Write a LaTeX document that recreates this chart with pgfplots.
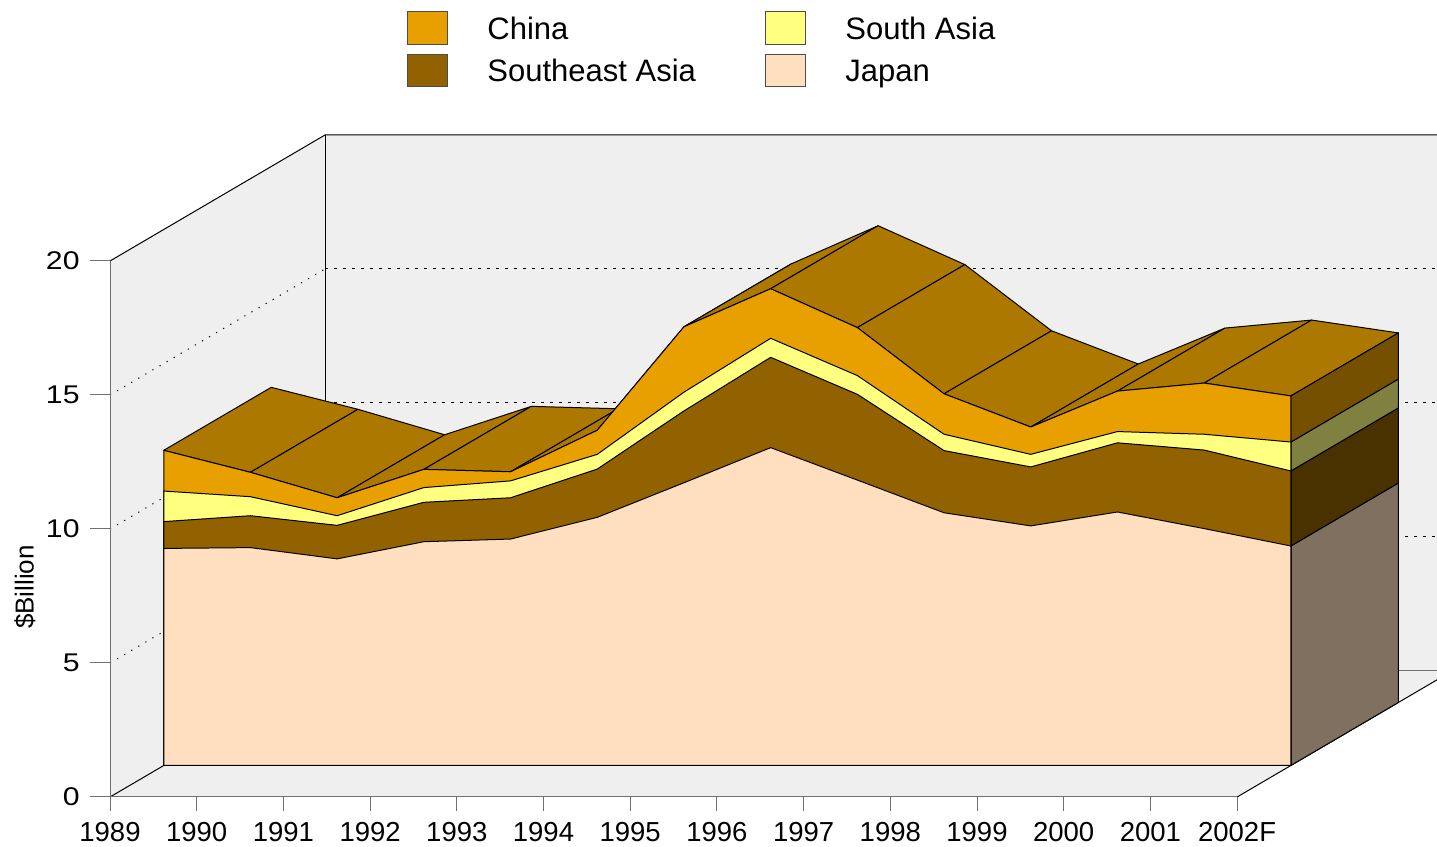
\documentclass[border=0pt]{standalone}
\usepackage{graphicx}
\usepackage{pgfplots}
\pgfplotsset{compat=1.18}
\usepackage{pgfplotstable}
\usepackage{fontspec}
\setmainfont{Liberation Sans}

\definecolor{japan}{HTML}{FFDFC0}
\definecolor{sea}{HTML}{926200}
\definecolor{sa}{HTML}{FFFF80}
\definecolor{china}{HTML}{E8A000}
\definecolor{topc}{HTML}{AD7800}
\definecolor{sjapan}{HTML}{80705F}
\definecolor{ssea}{HTML}{493100}
\definecolor{ssa}{HTML}{808040}
\definecolor{schina}{HTML}{745000}
\definecolor{wall}{HTML}{EFEFEF}
\definecolor{axisgray}{HTML}{707070}

\pgfplotstableread{
i japan sea sa china
0 8.10 1.00 1.14 1.52
1 8.13 1.19 0.71 0.91
2 7.71 1.25 0.36 0.67
3 8.35 1.47 0.55 0.68
4 8.45 1.54 0.63 0.34
5 9.26 1.80 0.55 0.90
6 10.55 2.68 0.70 2.44
7 11.86 3.37 0.71 1.85
8 10.65 3.20 0.70 1.79
9 9.43 2.32 0.61 1.51
10 8.94 2.20 0.47 1.02
11 9.46 2.58 0.42 1.51
12 8.84 2.93 0.59 1.91
13 8.19 2.80 1.08 1.72
}\data
\pgfplotstablecreatecol[create col/expr={\thisrow{japan}}]{c1}\data
\pgfplotstablecreatecol[create col/expr={\thisrow{japan}+\thisrow{sea}}]{c2}\data
\pgfplotstablecreatecol[create col/expr={\thisrow{japan}+\thisrow{sea}+\thisrow{sa}}]{c3}\data
\pgfplotstablecreatecol[create col/expr={\thisrow{japan}+\thisrow{sea}+\thisrow{sa}+\thisrow{china}}]{c4}\data

\newcommand\xfont{\fontsize{13.75}{16}\selectfont}
\newcommand\yfont{\fontsize{12.8}{15}\selectfont}
\newcommand\lfont{\fontsize{15.5}{18}\selectfont}

\begin{document}
\begin{tikzpicture}
\begin{axis}[
  hide axis, clip=false,
  x={(43.35pt,0pt)}, y={(107.5pt,63pt)}, z={(0pt,13.4pt)},
  xmin=0, xmax=13, ymin=0, ymax=1, zmin=0, zmax=20,
  every axis plot/.append style={mark=none, line width=0.5pt, line join=round},
]
% walls and floor
\addplot3[draw=none, fill=wall] coordinates {(0,0,0) (13,0,0) (13,1,0) (0,1,0)} -- cycle;
\addplot3[draw=none, fill=wall] coordinates {(0,0,0) (0,1,0) (0,1,20) (0,0,20)} -- cycle;
\addplot3[draw=none, fill=wall] coordinates {(0,1,0) (13,1,0) (13,1,20) (0,1,20)} -- cycle;
\pgfplotsinvokeforeach{5,10,15}{
  \addplot3[black, dash pattern=on 0.6pt off 3.5pt] coordinates {(0,0,#1) (0,1,#1)};
  \addplot3[black, dash pattern=on 1.5pt off 3pt] coordinates {(0,1,#1) (13,1,#1)};
}
\addplot3[black] coordinates {(0,0,20) (0,1,20) (13,1,20)};
\addplot3[black] coordinates {(0,1,20) (0,1,0)};
\addplot3[axisgray] coordinates {(0,1,0) (13,1,0)};
\addplot3[black] coordinates {(0,0,0) (0,1,0)};
\addplot3[black] coordinates {(13,0,0) (13,1,0)};
\addplot3[axisgray] coordinates {(0,0,20) (0,0,0) (13,0,0)};
\coordinate (O) at (axis cs:0,0,0);
% top surface
\pgfplotsforeachungrouped \k in {0,...,12}{%
  \pgfmathtruncatemacro{\kk}{\k+1}%
  \pgfplotstablegetelem{\k}{c4}\of\data\let\va\pgfplotsretval
  \pgfplotstablegetelem{\kk}{c4}\of\data\let\vb\pgfplotsretval
  \edef\tmp{\noexpand\addplot3[fill=topc, draw=black] coordinates {(\k,0.25,\va) (\kk,0.25,\vb) (\kk,0.75,\vb) (\k,0.75,\va)} -- cycle;}%
  \tmp
}
% right side faces
\pgfplotstablegetelem{13}{c1}\of\data\let\ra\pgfplotsretval
\pgfplotstablegetelem{13}{c2}\of\data\let\rb\pgfplotsretval
\pgfplotstablegetelem{13}{c3}\of\data\let\rc\pgfplotsretval
\pgfplotstablegetelem{13}{c4}\of\data\let\rd\pgfplotsretval
\edef\tmp{%
\noexpand\addplot3[fill=sjapan, draw=black] coordinates {(13,0.25,0) (13,0.75,0) (13,0.75,\ra) (13,0.25,\ra)} -- cycle;
\noexpand\addplot3[fill=ssea, draw=black] coordinates {(13,0.25,\ra) (13,0.75,\ra) (13,0.75,\rb) (13,0.25,\rb)} -- cycle;
\noexpand\addplot3[fill=ssa, draw=black] coordinates {(13,0.25,\rb) (13,0.75,\rb) (13,0.75,\rc) (13,0.25,\rc)} -- cycle;
\noexpand\addplot3[fill=schina, draw=black] coordinates {(13,0.25,\rc) (13,0.75,\rc) (13,0.75,\rd) (13,0.25,\rd)} -- cycle;
}\tmp
% front faces
\addplot3[fill=china, draw=black] table[x=i, y expr=0.25, z=c4] {\data} -- (axis cs:13,0.25,0) -- (axis cs:0,0.25,0) -- cycle;
\addplot3[fill=sa, draw=black] table[x=i, y expr=0.25, z=c3] {\data} -- (axis cs:13,0.25,0) -- (axis cs:0,0.25,0) -- cycle;
\addplot3[fill=sea, draw=black] table[x=i, y expr=0.25, z=c2] {\data} -- (axis cs:13,0.25,0) -- (axis cs:0,0.25,0) -- cycle;
\addplot3[fill=japan, draw=black] table[x=i, y expr=0.25, z=c1] {\data} -- (axis cs:13,0.25,0) -- (axis cs:0,0.25,0) -- cycle;
\end{axis}
\pgfresetboundingbox
\begin{scope}[shift={(O)}]
\path[use as bounding box] (-55pt,-25pt) rectangle (663.5pt,398.5pt);
\foreach \k/\lab in {0/1989,1/1990,2/1991,3/1992,4/1993,5/1994,6/1995,7/1996,8/1997,9/1998,10/1999,11/2000,12/2001,13/2002F}{
  \draw[axisgray, line width=0.5pt] (\k*43.35pt,0pt) -- (\k*43.35pt,-7pt);
  \node[anchor=base, inner sep=0pt, font=\xfont] at (\k*43.35pt,-22.4pt) {\lab};
}
\foreach \v in {0,5,10,15,20}{
  \draw[axisgray, line width=0.5pt] (0pt,\v*13.4pt) -- (-10pt,\v*13.4pt);
  \node[anchor=east, inner sep=0pt, font=\yfont] at (-15pt,\v*13.4pt) {\scalebox{1.18}[1]{\v}};
}
\node[rotate=90, inner sep=0pt, font=\fontsize{13}{15}\selectfont] at (-42.5pt,105pt) {\$Billion};
% legend
\filldraw[fill=china, draw=black!70, line width=0.5pt] (148.5pt,376pt) rectangle (168.5pt,392.5pt);
\filldraw[fill=sea, draw=black!70, line width=0.5pt] (148.5pt,355pt) rectangle (168.5pt,371pt);
\filldraw[fill=sa, draw=black!70, line width=0.5pt] (327.5pt,376pt) rectangle (347.5pt,392.5pt);
\filldraw[fill=japan, draw=black!70, line width=0.5pt] (327.5pt,355pt) rectangle (347.5pt,371pt);
\node[anchor=base west, inner sep=0pt, font=\lfont] at (188.5pt,378.7pt) {China};
\node[anchor=base west, inner sep=0pt, font=\lfont] at (188.5pt,357.5pt) {Southeast Asia};
\node[anchor=base west, inner sep=0pt, font=\lfont] at (367.5pt,378.7pt) {South Asia};
\node[anchor=base west, inner sep=0pt, font=\lfont] at (367.5pt,357.5pt) {Japan};
\end{scope}
\end{tikzpicture}
\end{document}
